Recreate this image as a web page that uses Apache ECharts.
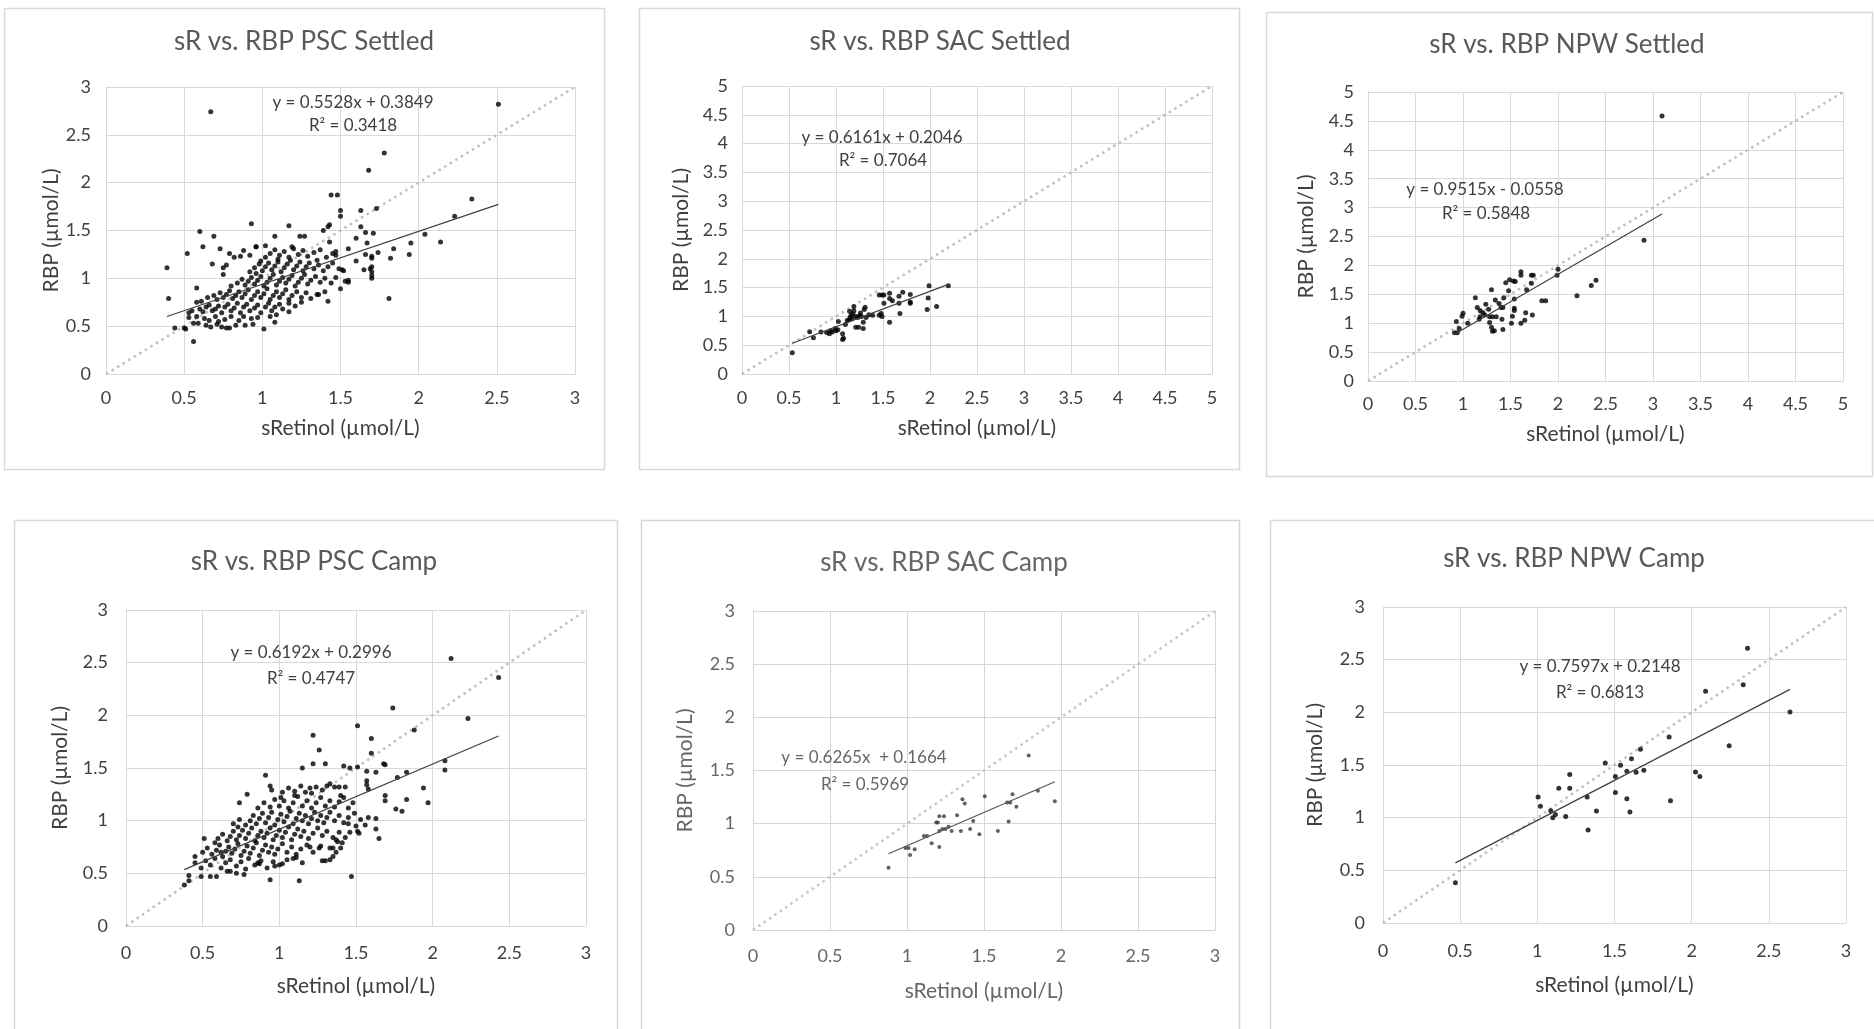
<!DOCTYPE html>
<html><head><meta charset="utf-8">
<script src="https://cdn.jsdelivr.net/npm/echarts/dist/echarts.min.js"></script>
<style>
html,body{margin:0;padding:0;background:#fff;overflow:hidden}
#main,#blur{position:absolute;left:0;top:0;width:1874px;height:1029px}
#blur{filter:blur(0.6px);pointer-events:none}
</style></head>
<body><div id="main"></div><div id="blur"></div>
<script>
// ---------------- DATA ----------------
const panelTitles = ['sR vs. RBP PSC Settled','sR vs. RBP SAC Settled','sR vs. RBP NPW Settled','sR vs. RBP PSC Camp','sR vs. RBP SAC Camp','sR vs. RBP NPW Camp'];
const axisMax = [3,5,5,3,3,3];
const tickStep = 0.5;
const xAxisTitle = 'sRetinol (µmol/L)';
const yAxisTitle = 'RBP (µmol/L)';
const trendSlope = [0.5528,0.6161,0.9515,0.6192,0.6265,0.7597];
const trendIntercept = [0.3849,0.2046,-0.0558,0.2996,0.1664,0.2148];
const eqLines = ['y = 0.5528x + 0.3849','y = 0.6161x + 0.2046','y = 0.9515x - 0.0558','y = 0.6192x + 0.2996','y = 0.6265x  + 0.1664','y = 0.7597x + 0.2148'];
const r2Lines = ['R² = 0.3418','R² = 0.7064','R² = 0.5848','R² = 0.4747','R² = 0.5969','R² = 0.6813'];

const pscSettled = [
[0.67,2.74],[2.51,2.82],[1.78,2.31],[1.68,2.13],[1.44,1.87],[1.48,1.87],[2.34,1.83],[1.50,1.71],[1.50,1.65],[1.63,1.71],[1.73,1.73],[2.23,1.65],[2.04,1.46],[2.14,1.38],[1.95,1.37],[1.84,1.31],[1.94,1.25],[1.82,1.21],[1.81,0.79],[0.39,1.11],[0.40,0.79],[0.56,0.34],[0.60,1.49],[0.69,1.44],[0.52,1.26],[0.62,1.33],[0.68,1.15],[0.93,1.57],[1.17,1.55],[1.08,1.44],[1.24,1.44],[1.27,1.44],[1.39,1.50],[1.42,1.54],[1.43,1.56],[1.63,1.54],[1.66,1.48],[1.71,1.47],[1.60,1.42],[1.67,1.37],[1.43,1.38],[0.73,1.31],[0.88,1.29],[0.96,1.33],[1.02,1.34],[0.79,1.26],[0.82,1.22],[0.86,1.23],[1.55,1.31],[1.47,1.28],[1.47,1.24],[1.74,1.27],[1.66,1.25],[1.70,1.23],[1.70,1.21],[1.60,1.18],[1.70,1.12],[1.69,1.10],[1.70,1.07],[1.70,1.03],[1.70,1.00],[1.65,1.09],[1.51,1.09],[1.52,1.08],[1.55,0.98],[1.55,0.96],[1.50,0.89],[1.42,0.76],[1.36,0.83],[0.77,1.14],[0.75,1.11],[0.99,1.18],[0.58,0.90],[1.01,0.47],[1.08,0.54],[0.44,0.48],[0.50,0.48],[0.51,0.47],[0.56,0.53],[0.59,0.53],[0.67,0.49],[0.74,0.49],[0.77,0.48],[0.79,0.48],[0.83,0.51],[0.89,0.51],[0.94,0.52],[0.53,0.59],[0.53,0.64],[0.61,0.76],
[0.63,0.58],[0.66,0.56],[0.70,0.60],[0.72,0.55],[0.76,0.57],[0.80,0.60],[0.85,0.56],[0.88,0.60],[0.93,0.58],[0.97,0.59],[1.05,0.60],[1.09,0.62],[1.17,0.65],[0.58,0.60],[0.64,0.51],[0.71,0.52],
[0.55,0.66],[0.60,0.68],[0.62,0.65],[0.64,0.70],[0.66,0.72],[0.68,0.66],[0.70,0.68],[0.72,0.71],[0.74,0.64],[0.76,0.70],[0.78,0.73],[0.80,0.66],[0.82,0.69],[0.84,0.74],[0.86,0.64],[0.88,0.70],[0.90,0.73],[0.92,0.66],[0.95,0.69],[0.97,0.72],[0.99,0.64],[1.02,0.70],[1.04,0.74],[1.06,0.66],[1.08,0.70],[1.11,0.73],[1.13,0.68],[1.17,0.74],[1.21,0.71],[1.25,0.75],[0.58,0.75],
[0.65,0.80],[0.69,0.82],[0.71,0.78],[0.73,0.85],[0.75,0.80],[0.77,0.83],[0.79,0.87],[0.81,0.79],[0.83,0.82],[0.85,0.86],[0.87,0.80],[0.89,0.84],[0.91,0.88],[0.93,0.78],[0.95,0.82],[0.97,0.86],[0.99,0.80],[1.01,0.84],[1.03,0.89],[1.05,0.78],[1.07,0.82],[1.09,0.86],[1.11,0.80],[1.13,0.84],[1.15,0.88],[1.17,0.78],[1.19,0.82],[1.22,0.86],[1.25,0.80],[1.28,0.85],[1.31,0.79],[1.35,0.83],[1.40,0.86],
[0.80,0.92],[0.84,0.95],[0.87,0.99],[0.89,0.93],[0.91,0.97],[0.93,1.01],[0.95,0.94],[0.97,0.98],[0.99,1.02],[1.01,0.92],[1.03,0.96],[1.05,1.00],[1.07,1.04],[1.09,0.93],[1.11,0.97],[1.13,1.01],[1.15,0.95],[1.17,0.99],[1.19,1.03],[1.21,0.92],[1.23,0.96],[1.25,1.00],[1.27,1.04],[1.29,0.94],[1.31,0.98],[1.34,1.02],[1.37,0.96],[1.40,1.00],[1.44,0.95],[1.47,1.01],[1.53,0.97],[0.75,1.04],[0.96,1.05],
[0.92,1.07],[0.95,1.11],[0.98,1.15],[1.00,1.08],[1.02,1.12],[1.04,1.16],[1.06,1.09],[1.08,1.13],[1.10,1.17],[1.12,1.07],[1.14,1.11],[1.16,1.15],[1.18,1.19],[1.20,1.09],[1.22,1.13],[1.24,1.17],[1.26,1.08],[1.28,1.12],[1.30,1.16],[1.33,1.10],[1.36,1.14],[1.39,1.08],[1.42,1.12],[1.45,1.16],[1.49,1.10],[1.35,1.19],[1.10,1.20],
[1.02,1.22],[1.05,1.26],[1.08,1.30],[1.11,1.24],[1.14,1.28],[1.17,1.22],[1.20,1.31],[1.23,1.25],[1.26,1.29],[1.29,1.23],[1.33,1.27],[1.37,1.30],[1.41,1.22],[1.45,1.26],[0.92,1.24],[0.96,1.33],[1.19,1.33]
];

const sacSettled = [
[0.535,0.37],[0.72,0.735],[0.76,0.63],[0.84,0.73],[0.90,0.72],[0.93,0.70],[0.94,0.75],[0.96,0.73],[0.99,0.79],[1.00,0.75],[1.02,0.77],[1.025,0.91],[1.07,0.70],[1.08,0.62],[1.07,0.60],[1.10,0.86],[1.14,0.94],[1.15,0.98],[1.17,0.96],[1.145,1.09],[1.19,1.17],[1.19,1.10],[1.21,0.81],[1.24,0.81],[1.21,1.00],[1.23,0.98],[1.25,1.01],[1.27,1.00],[1.29,0.79],[1.30,1.12],[1.31,1.16],[1.29,0.90],[1.32,0.98],[1.39,1.02],[1.46,1.02],[1.49,1.00],[1.48,1.05],[1.46,1.37],[1.49,1.37],[1.51,1.37],[1.51,1.23],[1.57,0.90],[1.57,1.40],[1.57,1.31],[1.60,1.27],[1.67,1.35],[1.67,1.23],[1.68,1.05],[1.71,1.42],[1.79,1.38],[1.79,1.25],[1.79,1.23],[1.97,1.12],[1.98,1.32],[1.99,1.53],[2.07,1.17],[2.195,1.53],[1.12,0.93],[1.18,1.04],[1.26,1.06],[1.35,1.03],[1.16,1.02]
];

const npwSettled = [
[3.095,4.585],[2.905,2.437],[2.00,1.935],[1.99,1.83],[2.40,1.745],[2.35,1.653],[2.20,1.475],[1.83,1.39],[1.87,1.39],[1.61,1.89],[1.61,1.83],[1.72,1.83],[1.74,1.83],[1.72,1.69],[1.67,1.58],[1.49,1.75],[1.53,1.73],[1.55,1.72],[1.45,1.70],[1.48,1.56],[1.30,1.58],[1.54,1.42],[1.43,1.44],[1.34,1.40],[1.38,1.34],[1.40,1.27],[1.42,1.27],[1.24,1.33],[1.13,1.44],[1.15,1.27],[1.18,1.22],[1.21,1.18],[1.23,1.14],[1.27,1.24],[1.18,1.11],[1.28,1.11],[1.31,1.11],[1.35,1.11],[1.28,1.01],[1.30,0.93],[1.31,0.86],[1.33,0.87],[1.41,1.07],[1.42,0.89],[1.54,1.26],[1.54,1.22],[1.52,1.12],[1.51,1.00],[1.66,1.18],[1.65,1.05],[1.61,1.00],[1.73,1.14],[1.05,1.00],[1.17,1.07],[0.99,1.12],[1.00,1.17],[0.93,1.03],[0.96,0.91],[0.91,0.835],[0.94,0.835]
];

const pscCamp = [
[2.12,2.54],[2.43,2.36],[1.74,2.07],[2.23,1.97],[1.88,1.86],[1.51,1.90],[1.22,1.81],[1.26,1.67],[1.60,1.78],[1.60,1.64],[2.08,1.57],[2.08,1.48],[1.22,1.54],[1.30,1.54],[1.15,1.50],[1.42,1.52],[1.46,1.50],[1.51,1.51],[1.68,1.54],[1.69,1.53],[1.63,1.46],[1.57,1.47],[1.83,1.46],[1.77,1.41],[1.94,1.31],[1.97,1.17],[1.83,1.20],[1.69,1.24],[1.69,1.19],[1.76,1.11],[1.80,1.09],[1.63,1.02],[1.63,0.92],[1.65,0.83],[0.91,1.43],[0.94,1.33],[0.79,1.25],[0.74,1.17],[0.51,0.83],[0.45,0.66],[0.41,0.48],[0.41,0.43],[0.38,0.39],[0.49,0.47],[0.55,0.47],[0.59,0.47],[0.68,0.52],[0.77,0.49],[0.94,0.44],[1.13,0.43],[1.47,0.47],[1.33,0.63],[1.35,0.66],[1.30,0.62],[1.35,0.74],[1.40,0.74],[1.33,0.74],[1.27,0.76],[1.20,0.75],[1.09,0.64],[1.11,0.65],[0.97,0.57],[1.02,0.59],[0.86,0.60],[0.87,0.59],[1.37,0.82],[1.38,0.80],[1.41,0.79],[1.46,0.89],[1.51,0.90],[1.56,0.96],[1.45,0.97],[1.57,1.38],[1.58,1.30],[1.57,1.34],[1.21,1.26],[1.24,1.32],[1.31,1.33],[1.36,1.32],[1.39,1.32],
[0.45,0.60],[0.49,0.55],[0.52,0.62],[0.55,0.58],[0.58,0.64],[0.62,0.55],[0.65,0.60],[0.68,0.63],[0.72,0.57],[0.75,0.61],[0.78,0.54],[0.80,0.64],[0.84,0.58],[0.88,0.62],[0.92,0.55],[0.96,0.61],[1.00,0.58],[1.05,0.63],[1.15,0.60],[1.28,0.62],[0.72,0.50],[0.66,0.52],
[0.50,0.70],[0.53,0.74],[0.56,0.68],[0.59,0.72],[0.61,0.77],[0.63,0.66],[0.65,0.71],[0.67,0.75],[0.69,0.69],[0.71,0.73],[0.73,0.78],[0.75,0.67],[0.77,0.71],[0.79,0.76],[0.81,0.69],[0.83,0.74],[0.85,0.79],[0.87,0.67],[0.89,0.72],[0.91,0.77],[0.93,0.70],[0.95,0.75],[0.97,0.68],[0.99,0.73],[1.02,0.78],[1.05,0.70],[1.08,0.75],[1.11,0.68],[1.14,0.73],[1.18,0.77],[1.22,0.70],[1.26,0.74],[1.37,0.70],[0.58,0.79],[0.62,0.70],
[0.60,0.83],[0.63,0.87],[0.66,0.81],[0.68,0.85],[0.70,0.90],[0.72,0.82],[0.74,0.86],[0.76,0.91],[0.78,0.83],[0.80,0.88],[0.82,0.93],[0.84,0.81],[0.86,0.86],[0.88,0.90],[0.90,0.84],[0.92,0.88],[0.94,0.93],[0.96,0.82],[0.98,0.86],[1.00,0.91],[1.02,0.84],[1.04,0.89],[1.06,0.94],[1.08,0.82],[1.10,0.87],[1.12,0.92],[1.14,0.85],[1.16,0.90],[1.19,0.83],[1.22,0.88],[1.25,0.93],[1.28,0.86],[1.31,0.90],[1.35,0.84],[1.39,0.89],[1.43,0.84],[1.52,0.88],[0.73,0.94],
[0.70,0.97],[0.74,1.01],[0.78,0.96],[0.81,1.00],[0.83,1.05],[0.85,0.97],[0.87,1.02],[0.89,1.07],[0.91,0.98],[0.93,1.03],[0.95,1.08],[0.97,0.96],[0.99,1.01],[1.01,1.06],[1.03,0.99],[1.05,1.04],[1.07,1.09],[1.09,0.97],[1.11,1.02],[1.13,1.07],[1.15,1.00],[1.17,1.05],[1.19,0.97],[1.21,1.02],[1.23,1.08],[1.25,1.00],[1.27,1.05],[1.29,0.98],[1.31,1.03],[1.33,1.08],[1.36,1.00],[1.39,1.05],[1.42,0.98],[1.45,1.03],[1.49,1.07],[1.53,1.01],[1.58,1.03],[1.50,0.95],
[0.86,1.12],[0.90,1.17],[0.94,1.13],[0.97,1.20],[1.00,1.14],[1.03,1.19],[1.06,1.12],[1.09,1.17],[1.12,1.23],[1.15,1.14],[1.18,1.19],[1.21,1.12],[1.24,1.17],[1.27,1.22],[1.30,1.14],[1.33,1.19],[1.36,1.13],[1.39,1.18],[1.42,1.22],[1.45,1.12],[1.48,1.17],[1.40,1.24],[1.10,1.24],[1.01,1.22],
[1.02,1.27],[1.06,1.31],[1.10,1.28],[1.14,1.33],[1.17,1.27],[1.20,1.31],[1.28,1.29],[1.33,1.35],[1.43,1.32],[0.95,1.29]
];

const sacCamp = [
[0.88,0.586],[1.02,0.705],[0.99,0.77],[1.01,0.77],[1.16,0.815],[1.21,0.78],[1.11,0.884],[1.13,0.884],[1.21,0.93],[1.23,0.95],[1.25,0.95],[1.29,0.93],[1.20,1.01],[1.19,1.01],[1.21,1.07],[1.24,1.07],[1.325,1.08],[1.35,0.93],[1.41,0.95],[1.43,1.025],[1.47,0.90],[1.36,1.23],[1.375,1.19],[1.505,1.257],[1.59,0.93],[1.66,1.02],[1.65,1.20],[1.67,1.20],[1.71,1.16],[1.685,1.276],[1.79,1.64],[1.85,1.31],[1.96,1.21],[1.05,0.76],[1.27,0.97]
];

const npwCamp = [
[0.469,0.383],[1.005,1.196],[1.02,1.108],[1.087,1.066],[1.10,1.00],[1.117,1.03],[1.139,1.28],[1.184,1.01],[1.21,1.41],[1.21,1.28],[1.323,1.196],[1.329,0.883],[1.383,1.063],[1.44,1.52],[1.506,1.39],[1.506,1.24],[1.539,1.497],[1.58,1.44],[1.58,1.18],[1.61,1.56],[1.60,1.054],[1.64,1.43],[1.668,1.65],[1.69,1.45],[1.854,1.766],[1.863,1.16],[2.025,1.433],[2.053,1.39],[2.09,2.20],[2.243,1.683],[2.334,2.263],[2.362,2.608],[2.637,2.003]
];

const panelData = [pscSettled, sacSettled, npwSettled, pscCamp, sacCamp, npwCamp];

// ---------------- LAYOUT ----------------
const layout = [
 {box:[4,8,600,461],  grid:[106,87,469,287],  title:[304,42],  eq:[353,103],  r2:[353,126],  yGap:39, yMargin:15, xMargin:15, xGap:44},
 {box:[639,8,600,461],grid:[742,86,470,288],  title:[940,42],  eq:[882,138],  r2:[883,161],  yGap:50, yMargin:14, xMargin:15, xGap:44},
 {box:[1266,12,606,464],grid:[1368,92,475,289],title:[1567,45], eq:[1485,190], r2:[1486,214], yGap:51, yMargin:14, xMargin:14, xGap:43},
 {box:[14,520,603,520],grid:[126,610,460,316], title:[314,562], eq:[311,653],  r2:[311,679],  yGap:55, yMargin:18, xMargin:18, xGap:50},
 {box:[641,520,598,520],grid:[753,611,462,319],title:[944,563], eq:[864,758],  r2:[865,785],  yGap:57, yMargin:18, xMargin:17, xGap:51},
 {box:[1270,520,620,520],grid:[1383,607,463,316],title:[1574,559],eq:[1600,667], r2:[1600,693], yGap:57, yMargin:18, xMargin:19, xGap:52}
];

const FONT = 'Lato, "Open Sans", sans-serif';

function buildOption(ids, faded) {
  const C = faded
    ? {text:'#666', title:'#666', grid:'#d6d6d6', dot:'#3a3a3a', trend:'#555', diag:'#c6c6c6', box:'#d4d4d4', size:4}
    : {text:'#404040', title:'#595959', grid:'#d9d9d9', dot:'#000', trend:'#404040', diag:'#bfbfbf', box:'#d9d9d9', size:5};
  const grid=[], xAxis=[], yAxis=[], series=[], graphic=[];
  ids.forEach((p, k) => {
    const L = layout[p];
    const d = panelData[p];
    graphic.push({type:'rect', silent:true, z:-10, shape:{x:L.box[0]+0.5, y:L.box[1]+0.5, width:L.box[2], height:L.box[3]},
      style:{fill:'#fff', stroke:C.box, lineWidth:1.5}});
    graphic.push({type:'text', silent:true, x:L.title[0], y:L.title[1],
      style:{text:panelTitles[p], font:'26px ' + FONT, fill:C.title, align:'center', verticalAlign:'middle'}});
    graphic.push({type:'text', silent:true, z:50, x:L.eq[0], y:L.eq[1],
      style:{text:eqLines[p], font:'17px ' + FONT, fill:C.text, align:'center', verticalAlign:'middle'}});
    graphic.push({type:'text', silent:true, z:50, x:L.r2[0], y:L.r2[1],
      style:{text:r2Lines[p], font:'17px ' + FONT, fill:C.text, align:'center', verticalAlign:'middle'}});
    grid.push({left:L.grid[0], top:L.grid[1], width:L.grid[2], height:L.grid[3], containLabel:false});
    const axCommon = {
      type:'value', min:0, max:axisMax[p], interval:tickStep, gridIndex:k,
      axisLine:{show:true, lineStyle:{color:C.grid, width:1}},
      axisTick:{show:false},
      splitLine:{show:true, lineStyle:{color:C.grid, width:1}},
      nameLocation:'middle',
      nameTextStyle:{fontFamily:FONT, fontSize:21, color:C.text}
    };
    xAxis.push(Object.assign({}, axCommon, {name:xAxisTitle, nameGap:L.xGap,
      axisLabel:{fontFamily:FONT, fontSize:18, color:C.text, margin:L.xMargin}}));
    yAxis.push(Object.assign({}, axCommon, {name:yAxisTitle, nameGap:L.yGap, nameRotate:90,
      axisLabel:{fontFamily:FONT, fontSize:18, color:C.text, margin:L.yMargin}}));
    const xs = d.map(v => v[0]);
    const xmin = Math.min(...xs), xmax = Math.max(...xs);
    series.push({type:'line', xAxisIndex:k, yAxisIndex:k, data:[[0,0],[axisMax[p],axisMax[p]]],
      showSymbol:false, silent:true, z:2, lineStyle:{color:C.diag, width:2.5, type:[2.5,4], cap:'butt'}});
    series.push({type:'scatter', xAxisIndex:k, yAxisIndex:k, data:d, symbol:'circle', symbolSize:C.size, z:3,
      itemStyle:{color:C.dot}, silent:true});
    series.push({type:'line', xAxisIndex:k, yAxisIndex:k,
      data:[[xmin, trendSlope[p]*xmin + trendIntercept[p]],[xmax, trendSlope[p]*xmax + trendIntercept[p]]],
      showSymbol:false, silent:true, z:4, lineStyle:{color:C.trend, width:1.2}});
  });
  return {animation:false, backgroundColor:'transparent', textStyle:{fontFamily:FONT},
    grid, xAxis, yAxis, series, graphic};
}

const main = echarts.init(document.getElementById('main'), null, {renderer:'canvas'});
main.setOption(buildOption([0,1,2,3,5], false));
const blur = echarts.init(document.getElementById('blur'), null, {renderer:'canvas'});
blur.setOption(buildOption([4], true));
</script>
</body></html>
